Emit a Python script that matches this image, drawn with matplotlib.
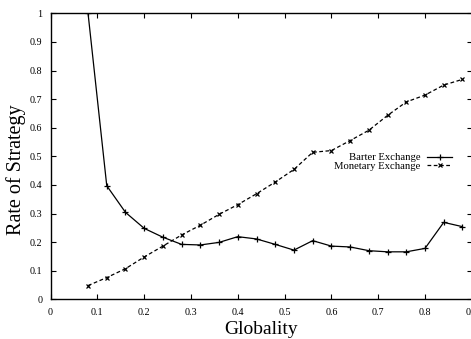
import matplotlib
matplotlib.use("Agg")
import matplotlib.pyplot as plt

globality = [0.08, 0.12, 0.16, 0.20, 0.24, 0.28, 0.32, 0.36, 0.40, 0.44, 0.48,
             0.52, 0.56, 0.60, 0.64, 0.68, 0.72, 0.76, 0.80, 0.84, 0.88]
barter = [1.0, 0.397, 0.304, 0.248, 0.217, 0.192, 0.190, 0.199, 0.219, 0.211, 0.192,
          0.172, 0.205, 0.186, 0.183, 0.170, 0.166, 0.166, 0.178, 0.269, 0.254]
monetary = [0.048, 0.076, 0.107, 0.148, 0.186, 0.225, 0.259, 0.297, 0.331, 0.369, 0.410,
            0.454, 0.514, 0.520, 0.555, 0.591, 0.643, 0.690, 0.714, 0.749, 0.769]
xticks = [0, 0.1, 0.2, 0.3, 0.4, 0.5, 0.6, 0.7, 0.8, 0.9]
yticks = [0, 0.1, 0.2, 0.3, 0.4, 0.5, 0.6, 0.7, 0.8, 0.9, 1]

plt.rcParams['font.family'] = ['Liberation Serif', 'DejaVu Serif']

W, H = 471, 339
fig = plt.figure(figsize=(W / 100, H / 100), dpi=100)
left = 50.6 / W
bottom = (H - 299.3) / H
width = (0.9 * 468) / W
height = 286 / H
ax = fig.add_axes([left, bottom, width, height])

ax.plot(globality, barter, color='black', lw=0.9, marker='+', ms=4.5, mew=0.9,
        label='Barter Exchange')
ax.plot(globality, monetary, color='black', lw=0.9, ls=(0, (3, 2)), marker='x', ms=3.3,
        mew=0.9, label='Monetary Exchange')

ax.set_xlim(0, 0.9)
ax.set_ylim(0, 1)
ax.set_xticks(xticks)
ax.set_yticks(yticks)
ax.set_xticklabels([f"{t:g}" for t in xticks])
ax.set_yticklabels([f"{t:g}" for t in yticks])
ax.tick_params(direction='in', length=3.5, width=0.8, top=True, right=True,
               labelsize=7.3, pad=6, colors='black')
for s in ax.spines.values():
    s.set_linewidth(1.0)

ax.set_xlabel('Globality', fontsize=14)
ax.set_ylabel('Rate of Strategy', fontsize=14.5)
ax.xaxis.set_label_coords(0.5, -0.107)
ax.xaxis.label.set_va('center')
ax.yaxis.set_label_coords(-0.082, 0.452)
ax.yaxis.label.set_va('center')

leg = ax.legend(loc='upper right', bbox_to_anchor=(0.954, (299.3 - 153) / 286),
                frameon=False, markerfirst=False, fontsize=7.7, handlelength=2.4,
                handletextpad=0.6, labelspacing=-0.1, borderpad=0, borderaxespad=0)
for t in leg.get_texts():
    t.set_ha('right')

fig.savefig('out.png', dpi=100)
